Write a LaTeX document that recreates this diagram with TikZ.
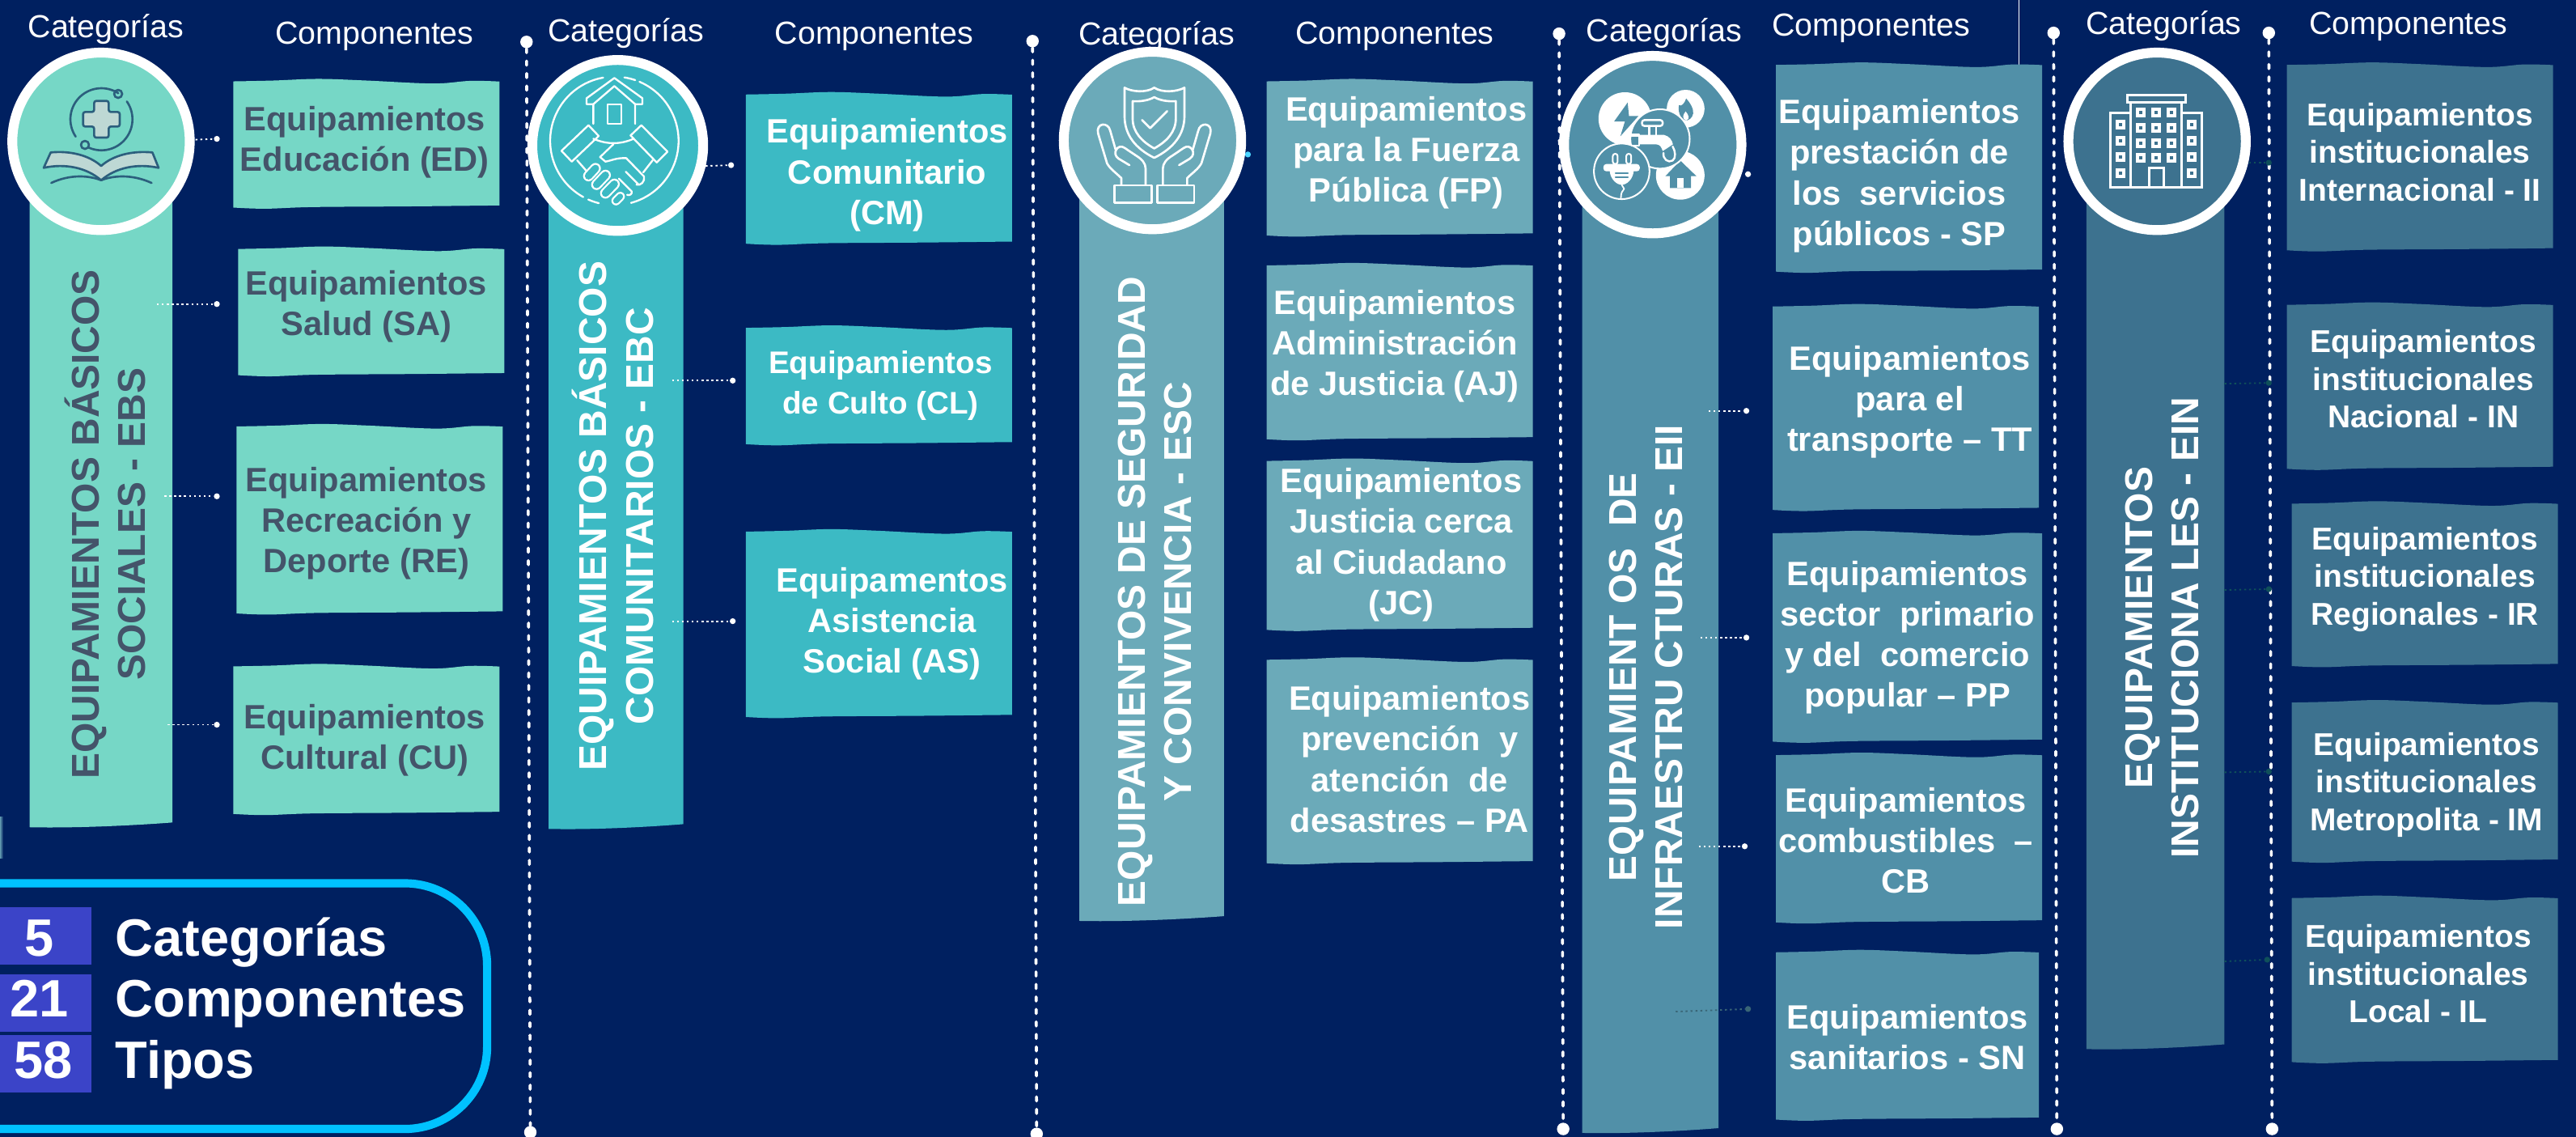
\documentclass[tikz,border=0pt]{standalone}
\usepackage{fontspec}
\setmainfont{Liberation Sans}
\definecolor{bgc}{RGB}{0,32,96}
\definecolor{cA}{RGB}{118,215,198}
\definecolor{cB}{RGB}{60,186,196}
\definecolor{cC}{RGB}{107,170,185}
\definecolor{cD}{RGB}{81,144,168}
\definecolor{cE}{RGB}{61,114,143}
\definecolor{darktxt}{RGB}{68,84,106}
\definecolor{numc}{RGB}{59,68,200}
\definecolor{cyanb}{RGB}{0,194,255}
\definecolor{icond}{RGB}{44,95,125}
\definecolor{iconl}{RGB}{190,216,212}
\definecolor{stubd}{RGB}{15,80,90}
\tikzset{
  boxtxt/.style={inner sep=0pt,yshift=-1.5pt,align=center,text=white,font=\fontsize{20.5}{24.7}\selectfont\bfseries},
  boxtxtdark/.style={boxtxt,text=darktxt},
  boxtxtsm/.style={boxtxt,yshift=1pt,font=\fontsize{19.2}{23}\selectfont\bfseries},
  bandtxt/.style={inner sep=0pt,align=center,text=white,rotate=90,font=\fontsize{23.6}{28.3}\selectfont\bfseries},
  bandtxtdark/.style={bandtxt,text=darktxt},
  headcat/.style={inner sep=0pt,yshift=-2pt,text=white,font=\fontsize{19.4}{23}\selectfont},
  headcomp/.style={inner sep=0pt,yshift=-2pt,text=white,font=\fontsize{19.4}{23}\selectfont},
  sumtxt/.style={inner sep=0pt,anchor=base west,text=white,font=\fontsize{32}{36}\selectfont\bfseries},
  sumnum/.style={inner sep=0pt,anchor=base,text=white,font=\fontsize{32}{36}\selectfont\bfseries},
  vline/.style={white,line width=1.8pt,line cap=round,dash pattern=on 2.6pt off 5pt},
  headdot/.style={circle,fill=white,inner sep=0pt,minimum size=7.6pt},
  stub/.style={white,line width=.9pt,dash pattern=on 1.2pt off 1.8pt},
  stubdot/.style={circle,fill=white,inner sep=0pt,minimum size=3.6pt},
  ring/.style={draw=white,line width=6pt},
  iconscope/.style={x=.1642pt,y=-.1642pt,line cap=round,line join=round},
}
\newcommand{\wbox}[5]{%
  \pgfmathsetmacro{\bw}{#3-#1}%
  \fill[#5] plot[smooth,tension=.6] coordinates{(#1,#2+1.5) ({#1+.15*\bw},{#2+1}) ({#1+.32*\bw},#2) ({#1+.5*\bw},{#2+1}) ({#1+.75*\bw},{#2+2.8}) ({#1+.89*\bw},{#2+1.2}) (#3,{#2+1.6})}
    -- plot[smooth,tension=.6] coordinates{(#3,{#4-2}) ({#1+.65*\bw},{#4-1.4}) ({#1+.3*\bw},{#4-1}) ({#1+.12*\bw},#4) (#1,{#4-.7})} -- cycle;}
\newcommand{\band}[5]{%
  \pgfmathsetmacro{\bw}{#3-#1}%
  \fill[#5] (#1,#2) -- (#3,#2) -- (#3,{#4-3.5}) .. controls ({#1+.7*\bw},{#4-1.5}) and ({#1+.3*\bw},#4) .. (#1,{#4-.6}) -- cycle;}
\newcommand{\oarc}[5]{\draw plot[domain=#4:#5,samples=40,smooth] ({#1+#3*cos(\x)},{#2+#3*sin(\x)});}
\begin{document}
\begin{tikzpicture}[x=1pt,y=-1pt]
\useasboundingbox (0,0) rectangle (1568,691.9);
\clip (0,0) rectangle (1568,691.9);
\fill[bgc] (0,0) rectangle (1568,691.9);

% dashed verticals
\foreach \n/\xa/\ya/\xb/\yb in {a/320.5/25.5/322.8/689,b/628.5/25/631/690,c/949/20.5/951.5/687,d/1250/20/1252/687,e/1381/20/1383/687}{
  \node[headdot] (top\n) at (\xa,\ya) {};
  \node[headdot] (bot\n) at (\xb,\yb) {};
  \draw[vline] (top\n) -- (bot\n);
}
\draw[white,line width=.4pt] (1229,0) -- (1229,65.5);

% bands
\band{18}{80}{105}{504}{cA}
\band{334}{80}{416}{505}{cB}
\band{657}{80}{745}{561}{cC}
\band{963}{80}{1046}{690}{cD}
\band{1270}{80}{1354}{639}{cE}

% boxes
\wbox{142}{48}{304}{127}{cA}
\wbox{145}{150}{307}{229}{cA}
\wbox{144}{258}{306}{374}{cA}
\wbox{142}{404}{304}{496}{cA}
\wbox{454}{56}{616}{149}{cB}
\wbox{454}{198}{616}{271}{cB}
\wbox{454}{322}{616}{437}{cB}
\wbox{771}{48}{933}{144}{cC}
\wbox{771}{160}{933}{268}{cC}
\wbox{771}{279}{933}{384}{cC}
\wbox{771}{400}{933}{526}{cC}
\wbox{1081}{38}{1243}{166}{cD}
\wbox{1079}{185}{1241}{311}{cD}
\wbox{1079}{323}{1243}{452}{cD}
\wbox{1081}{458}{1243}{562}{cD}
\wbox{1081}{578}{1241}{682}{cD}
\wbox{1392}{38}{1554}{153}{cE}
\wbox{1392}{184}{1554}{286}{cE}
\wbox{1395}{305}{1557}{406}{cE}
\wbox{1395}{426}{1557}{525}{cE}
\wbox{1395}{545}{1557}{647}{cE}

% box text
\node[boxtxtdark] (ED) at (222,85) {Equipamientos\\Educación (ED)};
\node[boxtxtdark] (SA) at (223,185) {Equipamientos\\Salud (SA)};
\node[boxtxtdark] (RE) at (223,317) {Equipamientos\\Recreación y\\Deporte (RE)};
\node[boxtxtdark] (CU) at (222,449) {Equipamientos\\Cultural (CU)};
\node[boxtxt] (CM) at (540,105) {Equipamientos\\Comunitario\\(CM)};
\node[boxtxt,font=\fontsize{19}{24.7}\selectfont\bfseries] (CL) at (536,233) {Equipamientos\\de Culto (CL)};
\node[boxtxt] (AS) at (543,378) {Equipamentos\\Asistencia\\Social (AS)};
\node[boxtxt] (FP) at (856,91.5) {Equipamientos\\para la Fuerza\\Pública (FP)};
\node[boxtxt] (AJ) at (849,209) {Equipamientos\\Administración\\de Justicia (AJ)};
\node[boxtxt] (JC) at (853,330) {Equipamientos\\Justicia cerca\\al Ciudadano\\(JC)};
\node[boxtxt] (PA) at (858,460.5) {Equipamientos\\prevención\ \ y\\atención\ \ de\\desastres – PA};
\node[boxtxt] (SP) at (1156,105.5) {Equipamientos\\prestación de\\los\ \ servicios\\públicos - SP};
\node[boxtxt] (TT) at (1162.5,243) {Equipamientos\\para el\\transporte – TT};
\node[boxtxt] (PP) at (1161,386.5) {Equipamientos\\sector\ \ primario\\y del\ \ comercio\\popular – PP};
\node[boxtxt] (CB) at (1160,510) {Equipamientos\\combustibles\ \ –\\CB};
\node[boxtxt] (SN) at (1161,629.5) {Equipamientos\\sanitarios - SN};
\node[boxtxtsm] (II) at (1473,92) {Equipamientos\\institucionales\\Internacional - II};
\node[boxtxtsm] (IN) at (1475,230) {Equipamientos\\institucionales\\Nacional - IN};
\node[boxtxtsm] (IR) at (1476,352) {Equipamientos\\institucionales\\Regionales - IR};
\node[boxtxtsm] (IM) at (1477,477) {Equipamientos\\institucionales\\Metropolita - IM};
\node[boxtxtsm] (IL) at (1472,592) {Equipamientos\\institucionales\\Local - IL};

% band text
\node[bandtxtdark] (tA) at (64,319) {EQUIPAMIENTOS BÁSICOS\\SOCIALES - EBS};
\node[bandtxt] (tB) at (373,314) {EQUIPAMIENTOS BÁSICOS\\COMUNITARIOS - EBC};
\node[bandtxt] (tC) at (703,360) {EQUIPAMIENTOS DE SEGURIDAD\\Y CONVIVENCIA - ESC};
\node[bandtxt] (tD) at (1002,412) {EQUIPAMIENT OS\ \ DE\\INFRAESTRU CTURAS - EII};
\node[bandtxt] (tE) at (1316,382) {EQUIPAMIENTOS\\INSTITUCIONA LES - EIN};

% headers
\foreach \n/\x/\y in {1/64.5/16,2/381/18,3/704/20,4/1013/18,5/1317/14}
  \node[headcat] (cat\n) at (\x,\y) {Categorías};
\foreach \n/\x/\y in {1/228/20,2/532/20,3/849/20,4/1139/15,5/1466/14}
  \node[headcomp] (comp\n) at (\x,\y) {Componentes};

% stubs
\foreach \n/\xa/\ya/\xb/\yb in {s1/119/85/132/84.5,s2/95.5/185/132/185,s3/100/302/132/302,s4/102/441/132/441,
  s5/429.5/101/445/100.5,s6/409/231.6/446/231.6,s7/409/378/446/378,
  s9/1063/106/1064/106,s10/1040/250/1063/250,s11/1035/388/1063/388,s12/1034/515/1062/515}{
  \coordinate (\n) at (\xa,\ya);
  \node[stubdot] (\n d) at (\xb,\yb) {};
  \draw[stub] (\n) -- (\n d);
}
\node[stubdot,fill=cyanb!70!white] (s8d) at (759.6,94) {};
\coordinate (s13) at (1020,615.6);
\node[stubdot,fill=cD!70!black] (s13d) at (1064,614) {};
\draw[stub,draw=cD!70!black] (s13) -- (s13d);
\foreach \n/\xa/\ya/\xb/\yb in {s14/1369/99/1381/99,s15/1354/233.5/1381/233,s16/1354/359/1381/358.5,s17/1354/470/1381/469.5,s18/1354/585/1380/584}{
  \coordinate (\n) at (\xa,\ya);
  \node[stubdot,fill=stubd] (\n d) at (\xb,\yb) {};
  \draw[stub,draw=stubd] (\n) -- (\n d);
}

% circles
\node[circle,ring,fill=cA,minimum size=108pt,inner sep=0pt] (C1) at (61.5,86) {};
\node[circle,ring,fill=cB,minimum size=104pt,inner sep=0pt] (C2) at (376,88.5) {};
\node[circle,ring,fill=cC,minimum size=108pt,inner sep=0pt] (C3) at (701.5,85.5) {};
\node[circle,ring,fill=cD,minimum size=108pt,inner sep=0pt] (C4) at (1006,88) {};
\node[circle,ring,fill=cE,minimum size=108pt,inner sep=0pt] (C5) at (1313,86) {};

% icon 1
\begin{scope}[shift={(4.92,29.55)},iconscope,draw=icond,line width=1.3pt]
  \oarc{346}{262}{115}{-214}{-57}
  \oarc{346}{262}{115}{-35}{114}
  \draw (408,168) circle (15);
  \draw (285,357) circle (15);
  \draw[fill=iconl,rounded corners=1.3pt] (319,194) -- (373,194) -- (373,235) -- (414,235) -- (414,289) -- (373,289) -- (373,330) -- (319,330) -- (319,289) -- (278,289) -- (278,235) -- (319,235) -- cycle;
  \draw[fill=iconl] (132,442) -- (158,385) .. controls (230,378) and (300,395) .. (345,435) .. controls (390,395) and (460,378) .. (535,385) -- (558,442) .. controls (480,425) and (400,440) .. (345,488) .. controls (290,440) and (210,425) .. (132,442) -- cycle;
  \draw (160,498) .. controls (230,465) and (300,470) .. (345,488) .. controls (390,470) and (460,465) .. (532,498);
\end{scope}

% icon 2
\begin{scope}[shift={(320.1,33.5)},iconscope,draw=white,line width=1.15pt]
  \oarc{328}{318}{238}{-81}{-71}
  \oarc{328}{318}{238}{-67}{75}
  \oarc{328}{318}{238}{104}{114}
  \oarc{328}{318}{238}{119}{260}
  \draw (250,255) -- (250,182) -- (225,182) -- (225,160) -- (328,85) -- (432,160) -- (432,182) -- (405,182) -- (405,255);
  \draw (250,182) -- (328,115) -- (405,182);
  \draw (303,183) rectangle (353,255);
  \draw (132,355) -- (232,260) -- (270,300) -- (170,395) -- cycle;
  \draw (388,298) -- (428,260) -- (525,358) -- (485,398) -- cycle;
  \draw (250,310) .. controls (300,332) and (350,332) .. (400,310);
  \draw (325,330) -- (275,378) -- (295,395) .. controls (315,392) and (335,380) .. (372,382) -- (438,450) .. controls (442,470) and (425,485) .. (410,480);
  \draw (370,432) -- (418,480);
  \draw (345,458) -- (392,505) .. controls (395,515) and (385,522) .. (375,518);
  \draw (190,390) -- (225,430);
  \draw (470,390) -- (435,435);
  \foreach \ax/\ay/\bx/\by/\w in {232/448/258/420/6.6,262/480/295/445/6.6,295/512/328/478/6.6,334/540/350/524/5.6}{
    \draw[white,line width=\w pt] (\ax,\ay) -- (\bx,\by);
    \pgfmathsetmacro{\wi}{\w-2.2}
    \draw[cB,line width=\wi pt] (\ax,\ay) -- (\bx,\by);
  }
\end{scope}

% icon 3
\begin{scope}[shift={(645.1,29.55)},iconscope,draw=white,line width=1.3pt]
  \draw (240,145) .. controls (265,160) and (320,165) .. (350,145) .. controls (380,165) and (435,160) .. (462,145) -- (462,250) .. controls (462,320) and (420,370) .. (350,405) .. controls (280,370) and (240,320) .. (240,250) -- cycle;
  \draw (270,195) .. controls (300,197) and (330,192) .. (350,180) .. controls (370,192) and (400,197) .. (430,195) -- (430,260) .. controls (430,310) and (395,345) .. (350,370) .. controls (305,345) and (270,310) .. (270,260) -- cycle;
  \draw (305,265) -- (335,295) -- (398,232);
  \foreach \sg/\off in {1/0,-1/700}{
    \begin{scope}[shift={(\off*.1642pt,0)},xscale=\sg]
      \draw (228,505) -- (228,480) .. controls (210,462) and (185,445) .. (175,425) -- (142,315) .. controls (132,275) and (180,270) .. (187,305) -- (207,375);
      \draw (258,432) -- (218,408) .. controls (190,390) and (215,350) .. (240,368) -- (280,395) .. controls (305,410) and (318,425) .. (318,445) -- (318,505);
    \end{scope}
  }
  \draw (202,507) rectangle (340,572);
  \draw (362,507) rectangle (498,572);
\end{scope}

% icon 4
\begin{scope}[shift={(950.5,32)},iconscope,line width=1pt]
  \fill[white] (235,245) circle (98);
  \fill[white] (460,208) circle (70);
  \fill[white] (440,455) circle (90);
  \fill[cD] (245,185) -- (195,255) -- (235,255) -- (218,310) -- (285,235) -- (250,235) -- cycle;
  \fill[cD] (435,195) .. controls (445,200) and (455,190) .. (462,170) .. controls (475,185) and (490,205) .. (488,225) .. controls (485,245) and (470,250) .. (462,252) .. controls (445,250) and (430,225) .. (435,195) -- cycle;
  \fill[white] (460,218) .. controls (470,230) and (478,245) .. (462,252) .. controls (445,245) and (450,230) .. (460,218) -- cycle;
  \fill[cD] (385,458) -- (440,400) -- (500,458) -- (480,458) -- (480,502) -- (402,502) -- (402,458) -- cycle;
  \fill[white] (430,465) rectangle (452,502);
  \draw[white,fill=cD] (365,320) circle (110);
  \draw[white,fill=cD] (223,440) circle (103);
  \begin{scope}
    \clip (365,320) circle (110);
    \fill[white] (290,305) -- (380,305) .. controls (400,310) and (410,325) .. (413,340) -- (375,365) .. controls (370,350) and (365,340) .. (350,340) -- (290,340) -- cycle;
    \draw[white] (255,303) rectangle (287,345);
    \fill[white] (255,303) rectangle (287,312);
    \draw[white,line width=1.2pt,rounded corners=1.5pt] (298,250) rectangle (375,272);
    \draw[white] (325,272) -- (325,305) (350,272) -- (350,305);
    \draw[white,line width=1.2pt] (378,372) .. controls (375,395) and (395,410) .. (412,400) .. controls (425,390) and (422,365) .. (412,348);
  \end{scope}
  \fill[white,rounded corners=1.8pt] (155,413) rectangle (290,440);
  \fill[white] (178,435) .. controls (180,470) and (205,490) .. (223,490) .. controls (241,490) and (266,470) .. (268,435) -- cycle;
  \draw[cD,line width=.8pt] (200,447) -- (246,447) (200,462) -- (246,462);
  \draw[white,line width=1pt,rounded corners=1.4pt,fill=cD] (190,375) rectangle (208,413);
  \draw[white,line width=1pt,rounded corners=1.4pt,fill=cD] (240,375) rectangle (258,413);
  \draw[white,line width=.9pt] (223,490) -- (232,505) .. controls (225,512) and (220,520) .. (220,540);
\end{scope}

% icon 5
\begin{scope}[shift={(1255.8,29.55)},iconscope,draw=white,line width=1.5pt,line cap=butt,line join=miter]
  \draw (237,172) rectangle (453,200);
  \draw (250,200) rectangle (440,515);
  \draw (175,237) rectangle (250,515);
  \draw (440,237) rectangle (515,515);
  \draw (320,515) -- (320,443) -- (372,443) -- (372,515);
  \foreach \x in {288,344,401}\foreach \y in {238,294,350,406}{
    \fill[white] (\x-18,\y-18) rectangle (\x+18,\y+18);
    \fill[cE] (\x-6,\y-6) rectangle (\x+6,\y+6);
  }
  \foreach \x in {213,477}\foreach \y in {283,342,402,461}{
    \fill[white] (\x-18,\y-18) rectangle (\x+18,\y+18);
    \fill[cE] (\x-6,\y-6) rectangle (\x+6,\y+6);
  }
\end{scope}

% summary
\fill[left color=cD!90!white,right color=bgc] (0,497) rectangle (2,522);
\draw[cyanb,line width=5pt,rounded corners=50pt] (-10,537.5) -- (296.5,537.5) -- (296.5,687) -- (-10,687);
\node[fill=numc,anchor=north west,minimum width=55.5pt,minimum height=35pt,inner sep=0pt] (n1) at (0,552) {};
\node[fill=numc,anchor=north west,minimum width=55.5pt,minimum height=35pt,inner sep=0pt] (n2) at (0,592.5) {};
\node[fill=numc,anchor=north west,minimum width=55.5pt,minimum height=35pt,inner sep=0pt] (n3) at (0,629.5) {};
\node[sumnum] (v1) at (24,582) {5};
\node[sumnum] (v2) at (24,619) {21};
\node[sumnum] (v3) at (26.5,656) {58};
\node[sumtxt] (w1) at (70,582) {Categorías};
\node[sumtxt] (w2) at (70,619) {Componentes};
\node[sumtxt] (w3) at (70,656) {Tipos};
\end{tikzpicture}
\end{document}
